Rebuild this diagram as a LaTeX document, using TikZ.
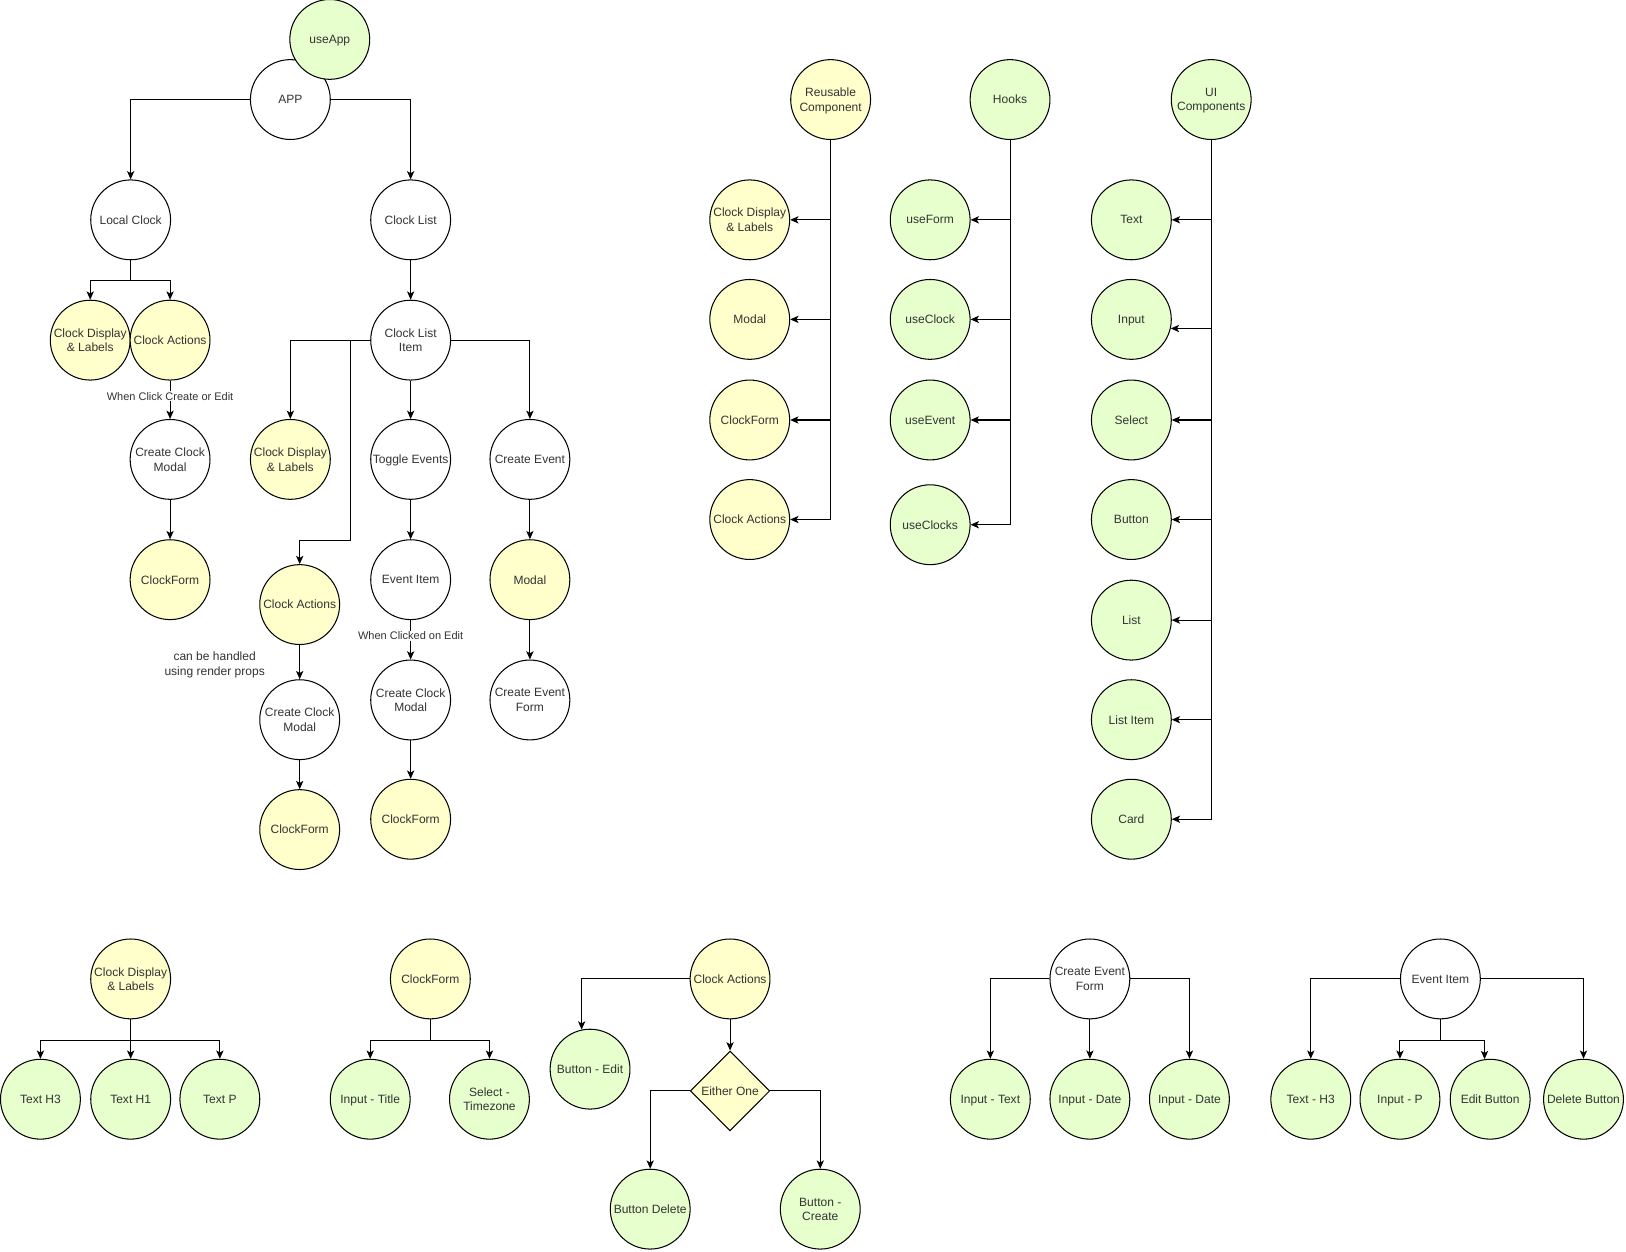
\documentclass[tikz,border=0pt]{standalone}
\usepackage{fontspec}
\setmainfont{Liberation Sans}
\usetikzlibrary{shapes.geometric,arrows.meta,calc}
\definecolor{gfill}{HTML}{E6FFCC}
\definecolor{yfill}{HTML}{FFFFCC}
\definecolor{txt}{HTML}{333333}
\begin{document}
\begin{tikzpicture}[x=1pt,y=-1pt,
  base/.style={circle,draw=black,line width=1pt,minimum size=77pt,inner sep=0pt,align=center,text depth=0pt,font=\fontsize{11.6}{14}\selectfont,text=txt},
  wnode/.style={base,fill=white},
  ynode/.style={base,fill=yfill},
  gnode/.style={base,fill=gfill},
  dia/.style={diamond,draw=black,line width=1pt,fill=yfill,minimum width=76.6pt,minimum height=77pt,inner sep=0pt,font=\fontsize{11.6}{14}\selectfont,text=txt},
  arr/.style={draw=black,line width=1pt,-{Stealth[length=8pt,width=7pt,inset=2pt]}},
  ln/.style={draw=black,line width=1pt},
  elbl/.style={fill=white,inner sep=1pt,font=\fontsize{10.6}{13}\selectfont,text=txt},
  note/.style={align=center,font=\fontsize{11.6}{14}\selectfont,text=txt}
]
\useasboundingbox[fill=white] (0,0) rectangle (1568,1207);

% ---------------- main tree ----------------
\node[wnode] (app) at (280,96) {APP};
\node[gnode] (useapp) at (318,38) {useApp};
\node[wnode] (lc) at (126,212) {Local Clock};
\node[wnode] (cl) at (396,212) {Clock List};
\node[ynode] (cd1) at (87,328) {Clock Display\\\& Labels};
\node[ynode] (ca1) at (164,328) {Clock Actions};
\node[wnode] (cli) at (396,328) {Clock List\\Item};
\node[wnode] (ccm1) at (164,443) {Create Clock\\Modal};
\node[ynode] (cf1) at (164,559) {ClockForm};
\node[ynode] (cd2) at (280,443) {Clock Display\\\& Labels};
\node[wnode] (te) at (396,443) {Toggle Events};
\node[wnode] (ce) at (511,443) {Create Event};
\node[ynode] (ca2) at (289,583) {Clock Actions};
\node[wnode] (ei) at (396,559) {Event Item};
\node[ynode] (modal) at (511,559) {Modal};
\node[wnode] (ccm2) at (289,694) {Create Clock\\Modal};
\node[wnode] (ccm3) at (396,675) {Create Clock\\Modal};
\node[wnode] (cef) at (511,675) {Create Event\\Form};
\node[ynode] (cf2) at (289,800) {ClockForm};
\node[ynode] (cf3) at (396,790) {ClockForm};
\node[note] (rp) at (207,641) {can be handled\\using render props};

\draw[arr] (app.west) -| (lc.north);
\draw[arr] (app.east) -| (cl.north);
\coordinate (lcb) at ($(lc.south)+(0,19.5)$);
\draw[ln] (lc.south) -- (lcb);
\draw[arr] (lcb) -| (cd1.north);
\draw[arr] (lcb) -| (ca1.north);
\draw[arr] (ca1) -- node[elbl,pos=0.41] {When Click Create or Edit} (ccm1);
\draw[arr] (ccm1) -- (cf1);
\draw[arr] (cl) -- (cli);
\draw[arr] (cli.west) -| (cd2.north);
\coordinate (clib) at (338,328);
\coordinate (clic) at (338,521);
\draw[arr] (clib) -- (clic) -| (ca2.north);
\draw[arr] (cli) -- (te);
\draw[arr] (cli.east) -| (ce.north);
\draw[arr] (te) -- (ei);
\draw[arr] (ei) -- node[elbl,pos=0.4] {When Clicked on Edit} (ccm3);
\draw[arr] (ccm3) -- (cf3);
\draw[arr] (ce) -- (modal);
\draw[arr] (modal) -- (cef);
\draw[arr] (ca2) -- (ccm2);
\draw[arr] (ccm2) -- (cf2);

% ---------------- reusable components ----------------
\node[ynode] (rc) at (801,96) {Reusable\\Component};
\node[ynode] (rc1) at (723,212) {Clock Display\\\& Labels};
\node[ynode] (rc2) at (723,308) {Modal};
\node[ynode] (rc3) at (723,405) {ClockForm};
\node[ynode] (rc4) at (723,501) {Clock Actions};
\foreach \c in {rc1,rc2,rc3,rc4} \draw[arr] (rc.south) |- (\c.east);

% ---------------- hooks ----------------
\node[gnode] (hk) at (974,96) {Hooks};
\node[gnode] (hk1) at (897,212) {useForm};
\node[gnode] (hk2) at (897,308) {useClock};
\node[gnode] (hk3) at (897,405) {useEvent};
\node[gnode] (hk4) at (897,506) {useClocks};
\foreach \c in {hk1,hk2,hk3,hk4} \draw[arr] (hk.south) |- (\c.east);

% ---------------- UI components ----------------
\node[gnode] (ui) at (1168,96) {UI\\Components};
\node[gnode] (ui1) at (1091,212) {Text};
\node[gnode] (ui2) at (1091,308) {Input};
\node[gnode] (ui3) at (1091,405) {Select};
\node[gnode] (ui4) at (1091,501) {Button};
\node[gnode] (ui5) at (1091,598) {List};
\node[gnode] (ui6) at (1091,694) {List Item};
\node[gnode] (ui7) at (1091,790) {Card};
\foreach \c in {ui1,ui3,ui4,ui5,ui6,ui7} \draw[arr] (ui.south) |- (\c.east);
\draw[arr] (ui.south) |- (ui2.-13.5);

% ---------------- bottom: clock display ----------------
\node[ynode] (bcd) at (126,944) {Clock Display\\\& Labels};
\node[gnode] (bcd1) at (39,1060) {Text H3};
\node[gnode] (bcd2) at (126,1060) {Text H1};
\node[gnode] (bcd3) at (212,1060) {Text P};
\coordinate (bcdb) at (126,1003);
\draw[ln] (bcd.south) -- (bcdb);
\draw[arr] (bcdb) -| (bcd1.north);
\draw[arr] (bcdb) -- (bcd2.north);
\draw[arr] (bcdb) -| (bcd3.north);

% ---------------- bottom: clock form ----------------
\node[ynode] (bcf) at (415,944) {ClockForm};
\node[gnode] (bcf1) at (357,1060) {Input - Title};
\node[gnode] (bcf2) at (472,1060) {Select -\\Timezone};
\coordinate (bcfb) at (415,1003);
\draw[ln] (bcf.south) -- (bcfb);
\draw[arr] (bcfb) -| (bcf1.north);
\draw[arr] (bcfb) -| (bcf2.north);

% ---------------- bottom: clock actions ----------------
\node[ynode] (bca) at (704,944) {Clock Actions};
\node[gnode] (bca1) at (569,1031) {Button - Edit};
\node[dia] (either) at (704,1052) {Either One};
\node[gnode] (bca2) at (627,1166) {Button Delete};
\node[gnode] (bca3) at (791,1166) {Button -\\Create};
\draw[arr] (bca.west) -| (bca1.102);
\draw[arr] (bca) -- (either);
\draw[arr] (either.west) -| (bca2.north);
\draw[arr] (either.east) -| (bca3.north);

% ---------------- bottom: create event form ----------------
\node[wnode] (bce) at (1051,944) {Create Event\\Form};
\node[gnode] (bce1) at (955,1060) {Input - Text};
\node[gnode] (bce2) at (1051,1060) {Input - Date};
\node[gnode] (bce3) at (1147,1060) {Input - Date};
\draw[arr] (bce.west) -| (bce1.north);
\draw[arr] (bce) -- (bce2);
\draw[arr] (bce.east) -| (bce3.north);

% ---------------- bottom: event item ----------------
\node[wnode] (bei) at (1389,944) {Event Item};
\node[gnode] (bei1) at (1264,1060) {Text - H3};
\node[gnode] (bei2) at (1350,1060) {Input - P};
\node[gnode] (bei3) at (1437,1060) {Edit Button};
\node[gnode] (bei4) at (1527,1060) {Delete Button};
\coordinate (beib) at (1389,1003);
\draw[arr] (bei.west) -| (bei1.north);
\draw[arr] (bei.east) -| (bei4.north);
\draw[ln] (bei.south) -- (beib);
\draw[arr] (beib) -| (bei2.north);
\draw[arr] (beib) -| (bei3.98);
\end{tikzpicture}
\end{document}
